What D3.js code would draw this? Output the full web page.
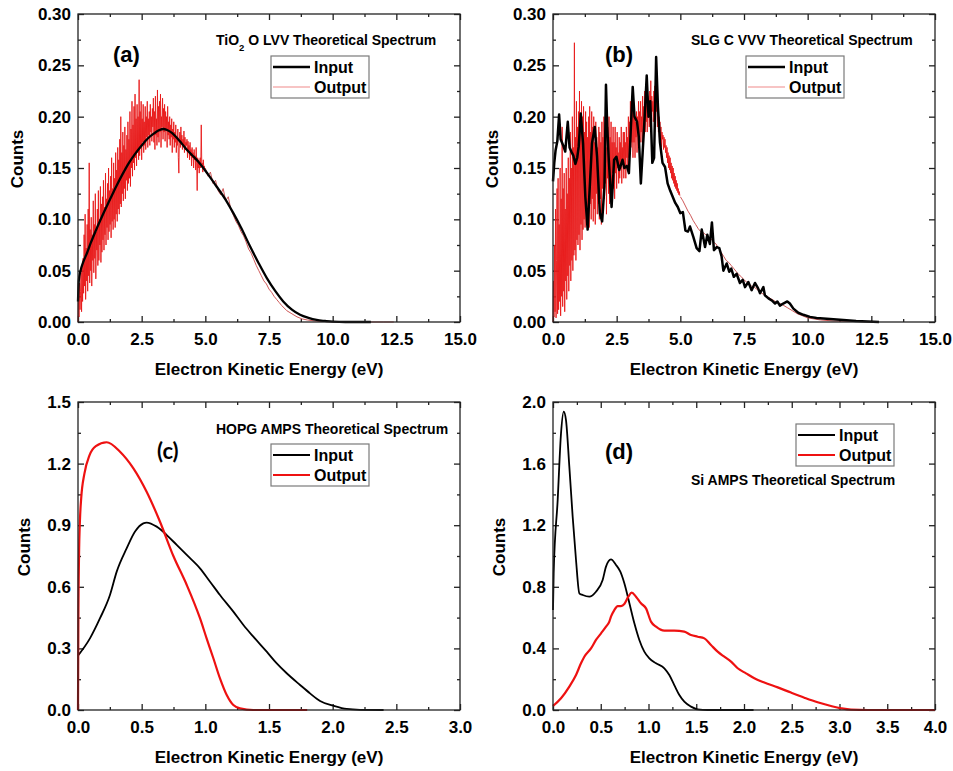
<!DOCTYPE html>
<html lang="en">
<head>
<meta charset="utf-8">
<title>Theoretical spectra - input vs output</title>
<script src="https://d3js.org/d3.v7.min.js"></script>
<style>
	body {margin:0; background:#fff;}
	svg text {font-family:"Liberation Sans", Arial, sans-serif; font-weight:bold; fill:#000;}
</style>
</head>
<body>
<div id="chart"></div>
<script>
// ---------- data ----------
// (a) TiO2 O LVV
const aInE      = [0, 0.03, 0.1, 0.2, 0.35, 0.5, 0.75, 1.0, 1.25, 1.5, 1.75, 2.0, 2.25, 2.5, 2.75, 3.0, 3.2, 3.35, 3.5, 3.7, 3.9, 4.1, 4.3, 4.5, 4.8, 5.1, 5.44, 5.8, 6.1, 6.4, 6.75, 7.1, 7.41, 7.75, 8.06, 8.4, 8.72, 9.05, 9.37, 9.7, 10.0, 10.5, 11.5];
const aInCounts = [0.02, 0.04, 0.05, 0.058, 0.067, 0.077, 0.092, 0.106, 0.119, 0.132, 0.144, 0.155, 0.164, 0.172, 0.179, 0.184, 0.187, 0.188, 0.187, 0.184, 0.179, 0.173, 0.167, 0.162, 0.154, 0.144, 0.132, 0.119, 0.106, 0.092, 0.074, 0.057, 0.043, 0.03, 0.02, 0.012, 0.007, 0.004, 0.002, 0.001, 0.0003, 0, 0];
// noisy part of the output, sampled every 0.02 eV from 0 eV (one row = 0.2 eV)
const aNoiseStep = 0.02;
const aOutNoisy = [
	0.000, 0.025, 0.005, 0.038, 0.012, 0.030, 0.048, 0.010, 0.055, 0.020,
	0.062, 0.028, 0.085, 0.035, 0.105, 0.022, 0.072, 0.040, 0.095, 0.030,
	0.110, 0.045, 0.155, 0.038, 0.090, 0.050, 0.102, 0.035, 0.085, 0.060,
	0.118, 0.048, 0.095, 0.062, 0.125, 0.042, 0.088, 0.070, 0.110, 0.055,
	0.128, 0.060, 0.100, 0.075, 0.132, 0.058, 0.115, 0.068, 0.122, 0.080,
	0.138, 0.070, 0.112, 0.085, 0.145, 0.075, 0.120, 0.092, 0.135, 0.080,
	0.150, 0.088, 0.128, 0.095, 0.142, 0.082, 0.160, 0.098, 0.130, 0.090,
	0.155, 0.100, 0.140, 0.092, 0.165, 0.105, 0.148, 0.098, 0.170, 0.110,
	0.158, 0.105, 0.178, 0.115, 0.200, 0.112, 0.165, 0.125, 0.185, 0.118,
	0.172, 0.130, 0.190, 0.120, 0.168, 0.138, 0.182, 0.128, 0.195, 0.135,
	0.178, 0.140, 0.205, 0.132, 0.188, 0.150, 0.215, 0.142, 0.192, 0.155,
	0.210, 0.148, 0.222, 0.160, 0.198, 0.152, 0.212, 0.165, 0.200, 0.158,
	0.236, 0.162, 0.205, 0.170, 0.215, 0.158, 0.198, 0.175, 0.212, 0.165,
	0.195, 0.172, 0.210, 0.168, 0.200, 0.180, 0.215, 0.170, 0.198, 0.182,
	0.205, 0.172, 0.212, 0.185, 0.200, 0.176, 0.208, 0.190, 0.218, 0.175,
	0.205, 0.168, 0.220, 0.182, 0.198, 0.172, 0.226, 0.180, 0.210, 0.175,
	0.215, 0.185, 0.222, 0.170, 0.200, 0.190, 0.218, 0.178, 0.208, 0.185,
	0.212, 0.176, 0.205, 0.188, 0.200, 0.170, 0.210, 0.182, 0.195, 0.178,
	0.200, 0.172, 0.192, 0.180, 0.198, 0.165, 0.188, 0.178, 0.195, 0.170,
	0.185, 0.175, 0.192, 0.165, 0.180, 0.172, 0.188, 0.160, 0.145, 0.178,
	0.185, 0.170, 0.190, 0.175, 0.182, 0.168, 0.178, 0.172, 0.186, 0.165,
	0.180, 0.168, 0.175, 0.172, 0.178, 0.160, 0.176, 0.166, 0.172, 0.158,
	0.175, 0.162, 0.168, 0.152, 0.170, 0.160, 0.165, 0.150, 0.168, 0.158,
	0.162, 0.148, 0.170, 0.155, 0.128, 0.160, 0.150, 0.158, 0.145, 0.155,
	0.160, 0.150, 0.192, 0.152, 0.155, 0.146, 0.158, 0.150, 0.152, 0.148];
const aOutTailE      = [5.0, 5.1, 5.2, 5.3, 5.4, 5.5, 5.6, 5.7, 5.8, 5.9, 6.0, 6.1, 6.2, 6.3, 6.4, 6.5, 6.6, 6.7, 6.8, 6.9, 7.0, 7.1, 7.2, 7.3, 7.4, 7.5, 7.6, 7.7, 7.8, 7.9, 8.0, 8.2, 8.4, 8.6, 8.8, 9.0, 9.3, 9.6, 10.0, 10.5, 11.0, 11.5, 12.0, 12.4];
const aOutTailCounts = [0.150, 0.142, 0.146, 0.135, 0.138, 0.128, 0.124, 0.130, 0.118, 0.122, 0.110, 0.104, 0.098, 0.094, 0.088, 0.084, 0.078, 0.071, 0.067, 0.061, 0.055, 0.050, 0.045, 0.040, 0.037, 0.032, 0.029, 0.025, 0.022, 0.019, 0.016, 0.011, 0.008, 0.005, 0.003, 0.002, 0.001, 0.0005, 0.0002, 0.0001, 0, 0, 0, 0];

// (b) SLG C VVV
const bInE = [0.0, 0.05, 0.1, 0.17, 0.24, 0.3, 0.4, 0.48, 0.58, 0.65, 0.72, 0.8, 0.88, 0.95, 1.01, 1.09, 1.18, 1.27, 1.36, 1.43, 1.53, 1.64, 1.73, 1.84, 1.93, 2.02, 2.08, 2.13, 2.19, 2.3, 2.4, 2.49, 2.6, 2.73, 2.8, 2.9, 2.98, 3.05, 3.13, 3.2, 3.3, 3.37, 3.45, 3.52, 3.6, 3.68, 3.75, 3.82, 3.9, 3.97, 4.05, 4.12, 4.2, 4.3, 4.4, 4.5, 4.6, 4.7, 4.8, 4.9, 5.0, 5.1, 5.2, 5.3, 5.38, 5.51, 5.64, 5.75, 5.84, 5.97, 6.06, 6.16, 6.24, 6.32, 6.43, 6.53, 6.62, 6.69, 6.82, 6.92, 7.0, 7.1, 7.21, 7.34, 7.45, 7.54, 7.67, 7.8, 7.93, 8.05, 8.13, 8.26, 8.32, 8.46, 8.59, 8.72, 8.81, 8.91, 9.04, 9.2, 9.3, 9.44, 9.63, 9.83, 10.09, 10.35, 10.88, 11.4, 11.9, 12.8];
const bInCounts = [0.137, 0.155, 0.167, 0.176, 0.202, 0.178, 0.172, 0.166, 0.195, 0.17, 0.166, 0.162, 0.154, 0.16, 0.171, 0.203, 0.174, 0.122, 0.09, 0.125, 0.174, 0.19, 0.161, 0.106, 0.098, 0.132, 0.231, 0.19, 0.158, 0.112, 0.158, 0.161, 0.148, 0.158, 0.15, 0.152, 0.145, 0.185, 0.229, 0.2, 0.195, 0.18, 0.135, 0.165, 0.2, 0.24, 0.2, 0.215, 0.155, 0.16, 0.258, 0.21, 0.175, 0.155, 0.151, 0.135, 0.128, 0.122, 0.116, 0.112, 0.106, 0.107, 0.089, 0.088, 0.093, 0.083, 0.072, 0.069, 0.09, 0.073, 0.085, 0.076, 0.097, 0.07, 0.073, 0.072, 0.064, 0.05, 0.057, 0.049, 0.052, 0.044, 0.047, 0.038, 0.041, 0.034, 0.039, 0.031, 0.038, 0.033, 0.028, 0.034, 0.026, 0.023, 0.021, 0.018, 0.02, 0.016, 0.018, 0.02, 0.018, 0.013, 0.009, 0.007, 0.005, 0.004, 0.003, 0.002, 0.001, 0.0];
const bNoiseStep = 0.02;
const bOutNoisy = [
	0.000, 0.040, 0.005, 0.075, 0.010, 0.110, 0.004, 0.060, 0.130, 0.008,
	0.140, 0.012, 0.095, 0.020, 0.150, 0.006, 0.120, 0.025, 0.190, 0.015,
	0.130, 0.030, 0.145, 0.010, 0.110, 0.040, 0.150, 0.022, 0.125, 0.045,
	0.160, 0.030, 0.140, 0.055, 0.185, 0.040, 0.150, 0.060, 0.200, 0.050,
	0.170, 0.065, 0.272, 0.070, 0.180, 0.060, 0.215, 0.080, 0.190, 0.075,
	0.205, 0.085, 0.225, 0.070, 0.195, 0.095, 0.215, 0.080, 0.200, 0.090,
	0.210, 0.100, 0.185, 0.092, 0.205, 0.110, 0.195, 0.095, 0.180, 0.105,
	0.200, 0.092, 0.210, 0.115, 0.185, 0.100, 0.205, 0.120, 0.190, 0.098,
	0.200, 0.110, 0.175, 0.095, 0.195, 0.125, 0.180, 0.105, 0.170, 0.115,
	0.190, 0.100, 0.185, 0.120, 0.175, 0.095, 0.195, 0.130, 0.180, 0.110,
	0.200, 0.120, 0.185, 0.135, 0.195, 0.105, 0.170, 0.140, 0.190, 0.125,
	0.200, 0.115, 0.180, 0.140, 0.195, 0.125, 0.175, 0.145, 0.190, 0.130,
	0.175, 0.120, 0.190, 0.145, 0.170, 0.130, 0.185, 0.150, 0.165, 0.135,
	0.180, 0.140, 0.175, 0.150, 0.190, 0.135, 0.170, 0.155, 0.185, 0.140,
	0.185, 0.150, 0.175, 0.140, 0.190, 0.160, 0.180, 0.150, 0.200, 0.160,
	0.195, 0.165, 0.215, 0.170, 0.200, 0.175, 0.210, 0.160, 0.205, 0.175,
	0.210, 0.160, 0.195, 0.180, 0.205, 0.165, 0.200, 0.185, 0.215, 0.170,
	0.205, 0.175, 0.215, 0.185, 0.200, 0.175, 0.220, 0.180, 0.210, 0.190,
	0.225, 0.185, 0.215, 0.195, 0.230, 0.185, 0.220, 0.200, 0.215, 0.190,
	0.225, 0.200, 0.235, 0.190, 0.220, 0.205, 0.215, 0.195, 0.225, 0.200,
	0.230, 0.195, 0.215, 0.205, 0.230, 0.190, 0.210, 0.185, 0.200, 0.180,
	0.195, 0.175, 0.190, 0.170, 0.185, 0.178, 0.182, 0.168, 0.180, 0.170,
	0.178, 0.165, 0.172, 0.160, 0.170, 0.155, 0.165, 0.150, 0.162, 0.148,
	0.160, 0.145, 0.155, 0.140, 0.152, 0.138, 0.150, 0.135, 0.145, 0.132,
	0.142, 0.130, 0.138, 0.128, 0.135, 0.126, 0.130, 0.124, 0.127, 0.123];
const bOutTailE      = [5.0, 5.1, 5.2, 5.3, 5.4, 5.5, 5.6, 5.7, 5.8, 5.9, 6.0, 6.1, 6.2, 6.3, 6.4, 6.5, 6.6, 6.7, 6.8, 6.9, 7.0, 7.1, 7.2, 7.3, 7.4, 7.5, 7.6, 7.7, 7.8, 7.9, 8.0, 8.2, 8.4, 8.6, 8.8, 9.0, 9.2, 9.4, 9.6, 9.8, 10.0, 10.5, 11.0, 12.0, 12.7];
const bOutTailCounts = [0.122, 0.118, 0.113, 0.108, 0.104, 0.099, 0.095, 0.091, 0.088, 0.087, 0.085, 0.082, 0.081, 0.078, 0.076, 0.072, 0.068, 0.064, 0.060, 0.058, 0.055, 0.052, 0.049, 0.046, 0.044, 0.041, 0.039, 0.037, 0.035, 0.034, 0.032, 0.028, 0.025, 0.022, 0.019, 0.017, 0.014, 0.011, 0.008, 0.006, 0.004, 0.002, 0.001, 0.0005, 0];

// (c) HOPG AMPS
const cInE       = [0, 0.094, 0.173, 0.251, 0.304, 0.382, 0.448, 0.513, 0.539, 0.618, 0.697, 0.775, 0.854, 0.958, 1.037, 1.115, 1.22, 1.299, 1.377, 1.482, 1.561, 1.639, 1.744, 1.822, 1.901, 2.006, 2.11, 2.215, 2.40];
const cInCounts  = [0.265, 0.349, 0.447, 0.56, 0.674, 0.787, 0.869, 0.909, 0.913, 0.893, 0.852, 0.804, 0.755, 0.69, 0.625, 0.56, 0.479, 0.414, 0.357, 0.284, 0.227, 0.179, 0.122, 0.081, 0.044, 0.021, 0.005, 0.001, 0];
const cOutE      = [0, 0.003, 0.008, 0.015, 0.025, 0.05, 0.09, 0.14, 0.225, 0.33, 0.435, 0.539, 0.644, 0.749, 0.854, 0.958, 1.01, 1.063, 1.115, 1.168, 1.22, 1.272, 1.377, 1.8];
const cOutCounts = [0, 0.45, 0.75, 0.92, 1.03, 1.15, 1.24, 1.285, 1.304, 1.258, 1.177, 1.063, 0.917, 0.75, 0.609, 0.447, 0.349, 0.252, 0.154, 0.073, 0.024, 0.008, 0, 0];

// (d) Si AMPS
const dInE       = [0, 0.007, 0.049, 0.084, 0.112, 0.136, 0.171, 0.206, 0.241, 0.276, 0.311, 0.38, 0.45, 0.52, 0.555, 0.607, 0.66, 0.705, 0.747, 0.8, 0.852, 0.904, 0.956, 1.009, 1.079, 1.166, 1.218, 1.27, 1.323, 1.375, 1.445, 1.515, 1.62, 2.1];
const dInCounts  = [0.65, 0.888, 1.364, 1.797, 1.937, 1.883, 1.58, 1.255, 0.974, 0.758, 0.747, 0.736, 0.768, 0.844, 0.931, 0.978, 0.942, 0.898, 0.823, 0.693, 0.563, 0.455, 0.379, 0.335, 0.303, 0.271, 0.227, 0.162, 0.097, 0.054, 0.022, 0.004, 0, 0];
const dOutE      = [0, 0.084, 0.171, 0.241, 0.293, 0.328, 0.398, 0.45, 0.503, 0.555, 0.59, 0.607, 0.642, 0.677, 0.712, 0.747, 0.789, 0.824, 0.869, 0.921, 0.974, 1.026, 1.079, 1.166, 1.27, 1.375, 1.445, 1.515, 1.585, 1.654, 1.724, 1.794, 1.864, 1.934, 2.021, 2.108, 2.213, 2.353, 2.492, 2.632, 2.771, 2.911, 3.016, 3.12, 3.295, 4.0];
const dOutCounts = [0.026, 0.076, 0.152, 0.227, 0.303, 0.346, 0.4, 0.455, 0.498, 0.541, 0.574, 0.606, 0.649, 0.675, 0.675, 0.688, 0.736, 0.762, 0.736, 0.693, 0.66, 0.574, 0.541, 0.515, 0.515, 0.509, 0.487, 0.476, 0.465, 0.422, 0.379, 0.346, 0.314, 0.271, 0.238, 0.206, 0.178, 0.147, 0.113, 0.08, 0.05, 0.026, 0.011, 0.002, 0, 0];

const legendLabels = ["Input", "Output"];
const xTitle = "Electron Kinetic Energy (eV)";
const yTitle = "Counts";

// ---------- helpers ----------
function zip(xs, ys) { return xs.map(function (d, i) { return [d, ys[i]]; }); }
function gridded(step, ys) { return ys.map(function (d, i) { return [+(i * step).toFixed(3), d]; }); }

const plotW = 382, plotH = 308;
const svg = d3.select("#chart").append("svg").attr("width", 953).attr("height", 771);

function drawPanel(p) {
	var g = svg.append("g").attr("transform", "translate(" + p.left + "," + p.top + ")");
	var x = d3.scaleLinear().domain(p.xDomain).range([0, plotW]);
	var y = d3.scaleLinear().domain(p.yDomain).range([plotH, 0]);
	var eps = 1e-9;
	var xMaj = d3.range(p.xDomain[0], p.xDomain[1] + eps, p.xStep);
	var yMaj = d3.range(p.yDomain[0], p.yDomain[1] + eps, p.yStep);
	var xMin = d3.range(p.xStep / 2, p.xDomain[1], p.xStep);
	var yMin = d3.range(p.yStep / 2, p.yDomain[1], p.yStep);

	// minor ticks (all four sides, pointing inward)
	[[d3.axisBottom(x), "0," + plotH, xMin], [d3.axisTop(x), "0,0", xMin],
	 [d3.axisLeft(y), "0,0", yMin], [d3.axisRight(y), plotW + ",0", yMin]].forEach(function (a) {
		g.append("g").attr("transform", "translate(" + a[1] + ")")
			.call(a[0].tickValues(a[2]).tickSizeInner(-3).tickSizeOuter(0).tickFormat(""))
			.call(function (s) { s.select(".domain").remove(); s.selectAll("line").attr("stroke-width", 1.3).attr("stroke", "#222"); });
	});
	// major ticks
	g.append("g").attr("transform", "translate(0," + plotH + ")")
		.call(d3.axisBottom(x).tickValues(xMaj).tickSizeInner(-6).tickSizeOuter(0).tickPadding(11).tickFormat(d3.format(p.xFmt)))
		.call(styleAxis);
	g.append("g")
		.call(d3.axisLeft(y).tickValues(yMaj).tickSizeInner(-6).tickSizeOuter(0).tickPadding(7).tickFormat(d3.format(p.yFmt)))
		.call(styleAxis);
	g.append("g")
		.call(d3.axisTop(x).tickValues(xMaj).tickSizeInner(-6).tickSizeOuter(0).tickFormat(""))
		.call(styleAxis);
	g.append("g").attr("transform", "translate(" + plotW + ",0)")
		.call(d3.axisRight(y).tickValues(yMaj).tickSizeInner(-6).tickSizeOuter(0).tickFormat(""))
		.call(styleAxis);

	// curves
	p.series.forEach(function (s) {
		var line = d3.line().x(function (d) { return x(d[0]); }).y(function (d) { return y(d[1]); })
			.curve(s.smooth ? d3.curveMonotoneX : d3.curveLinear);
		g.append("path").datum(s.data)
			.attr("fill", "none").attr("stroke", s.color).attr("stroke-width", s.width)
			.attr("stroke-linejoin", "round")
			.attr("d", line);
	});

	// frame
	g.append("rect").attr("width", plotW).attr("height", plotH)
		.attr("fill", "none").attr("stroke", "#222").attr("stroke-width", 1.3);

	// titles
	g.append("text").attr("x", plotW / 2).attr("y", plotH + 53)
		.attr("text-anchor", "middle").style("font-size", "17px").text(xTitle);
	g.append("text").attr("transform", "translate(" + p.yTitleX + "," + 145 + ") rotate(-90)")
		.attr("text-anchor", "middle").style("font-size", "17px").text(yTitle);

	var t = g.append("text").attr("x", p.title[0]).attr("y", p.title[1]).style("font-size", "14px");
	p.titleParts.forEach(function (part) {
		var ts = t.append("tspan").text(part[0]);
		if (part[1]) ts.attr("baseline-shift", "sub").style("font-size", "9.5px");
	});
	g.append("text").attr("x", p.tag[0]).attr("y", p.tag[1])
		.style("font-size", "22px").style("font-family", p.tagFont || null).text(p.tagText);

	// legend
	var lg = g.append("g").attr("transform", "translate(" + p.legend[0] + "," + p.legend[1] + ")");
	lg.append("rect").attr("width", 98).attr("height", 42)
		.attr("fill", "#fff").attr("stroke", "#7a7a7a").attr("stroke-width", 1.2);
	p.legendStyle.forEach(function (st, i) {
		lg.append("line").attr("x1", 2).attr("x2", 39).attr("y1", 11 + i * 20).attr("y2", 11 + i * 20)
			.attr("stroke", st[0]).attr("stroke-width", st[1]);
		lg.append("text").attr("x", 43).attr("y", 17 + i * 20).style("font-size", "16px").text(legendLabels[i]);
	});
}

function styleAxis(s) {
	s.select(".domain").remove();
	s.selectAll("line").attr("stroke-width", 1.3).attr("stroke", "#222");
	s.selectAll("text").style("font-size", "17px");
}

const thinRed = "#e81818";

drawPanel({
	left: 78, top: 14, xDomain: [0, 15], yDomain: [0, 0.3], xStep: 2.5, yStep: 0.05,
	xFmt: ".1f", yFmt: ".2f", yTitleX: -55,
	series: [
		{data: gridded(aNoiseStep, aOutNoisy), color: thinRed, width: 0.9},
		{data: zip(aOutTailE, aOutTailCounts), color: "#c84545", width: 0.9},
		{data: zip(aInE, aInCounts), color: "#000", width: 2.3, smooth: true}
	],
	title: [138, 31], titleParts: [["TiO"], ["2", true], [" O LVV Theoretical Spectrum"]],
	tag: [35, 48], tagText: "(a)",
	legend: [193, 42], legendStyle: [["#000", 2.5], ["#f08a8a", 1.2]]
});

drawPanel({
	left: 553, top: 14, xDomain: [0, 15], yDomain: [0, 0.3], xStep: 2.5, yStep: 0.05,
	xFmt: ".1f", yFmt: ".2f", yTitleX: -55,
	series: [
		{data: gridded(bNoiseStep, bOutNoisy), color: thinRed, width: 0.9},
		{data: zip(bOutTailE, bOutTailCounts), color: "#c84545", width: 0.9},
		{data: zip(bInE, bInCounts), color: "#000", width: 2.5}
	],
	title: [138, 31], titleParts: [["SLG C VVV Theoretical Spectrum"]],
	tag: [52, 48], tagText: "(b)",
	legend: [193, 42], legendStyle: [["#000", 2.5], ["#f08a8a", 1.2]]
});

drawPanel({
	left: 78, top: 402, xDomain: [0, 3], yDomain: [0, 1.5], xStep: 0.5, yStep: 0.3,
	xFmt: ".1f", yFmt: ".1f", yTitleX: -48,
	series: [
		{data: zip(cInE, cInCounts), color: "#000", width: 1.8, smooth: true},
		{data: zip(cOutE, cOutCounts), color: "#ee1111", width: 2.2, smooth: true}
	],
	title: [138, 32], titleParts: [["HOPG AMPS Theoretical Spectrum"]],
	tag: [79, 57], tagText: "(c)", tagFont: "Lato, 'Liberation Sans', sans-serif",
	legend: [193, 42], legendStyle: [["#000", 2], ["#ee1111", 2.2]]
});

drawPanel({
	left: 553, top: 402, xDomain: [0, 4], yDomain: [0, 2], xStep: 0.5, yStep: 0.4,
	xFmt: ".1f", yFmt: ".1f", yTitleX: -48,
	series: [
		{data: zip(dInE, dInCounts), color: "#000", width: 1.8, smooth: true},
		{data: zip(dOutE, dOutCounts), color: "#ee1111", width: 2.2, smooth: true}
	],
	title: [138, 83], titleParts: [["Si AMPS Theoretical Spectrum"]],
	tag: [52, 57], tagText: "(d)",
	legend: [243, 22], legendStyle: [["#000", 2], ["#ee1111", 2.2]]
});
</script>
</body>
</html>
